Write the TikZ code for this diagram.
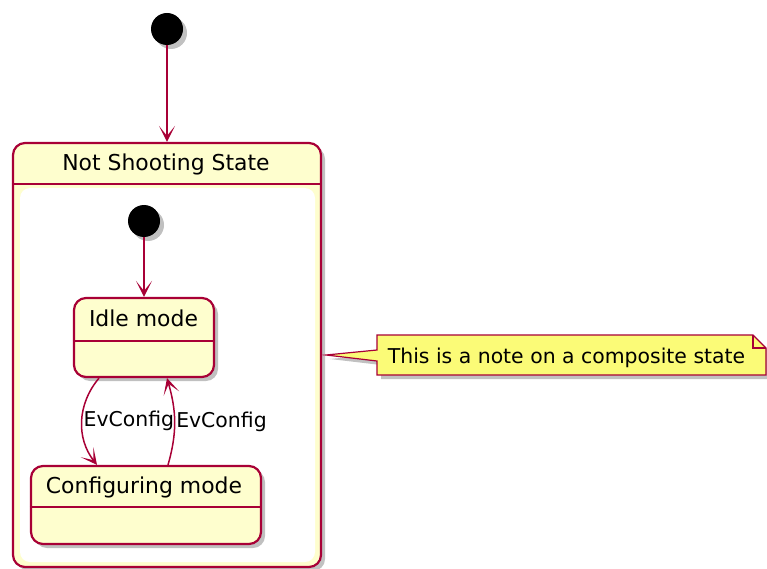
\documentclass[tikz,border=0pt]{standalone}
\usepackage{fontspec}
\setmainfont{DejaVu Sans}
\usetikzlibrary{positioning,arrows.meta,shadows}
\definecolor{stline}{HTML}{A80036}
\definecolor{stfill}{HTML}{FEFECE}
\definecolor{notefill}{HTML}{FBFB77}

\begin{document}
\begin{tikzpicture}[x=1pt, y=1pt,
  shd/.style={drop shadow={shadow xshift=4pt, shadow yshift=-4pt, opacity=.35, fill=black!70}},
  startdot/.style={circle, fill=black, minimum size=32pt, inner sep=0pt, shd},
  stbox/.style={draw=stline, line width=2.2pt, fill=stfill, rounded corners=12pt, inner sep=0pt, shd},
  sep/.style={draw=stline, line width=2.2pt},
  stname/.style={font=\fontsize{21.9}{24}\selectfont, inner sep=0pt, anchor=base},
  lbl/.style={font=\fontsize{20.4}{23}\selectfont, inner sep=0pt},
  arr/.style={-{Stealth[length=16pt, width=16pt, inset=10pt]}, draw=stline, line width=1.5pt}]
\useasboundingbox (0,0) rectangle (767,-569);

% composite state
\node[stbox, minimum width=308pt, minimum height=424pt] (comp) at (167,-355) {};
\node[fill=white, rounded corners=10pt, minimum width=295pt, minimum height=374pt] (body) at (167.5,-375) {};
\coordinate (hdr) at (0,-184);
\draw[sep] (comp.west |- hdr) -- (comp.east |- hdr);
\node[stname] (comptitle) at (166,-170.7) {Not Shooting State};

\node[startdot] (init) at (167,-29) {};
\draw[arr] (init) -- (comp.north);

% inner states
\node[startdot] (init2) at (144,-221) {};
\node[stbox, minimum width=140pt, minimum height=79pt] (idle) at (144,-337.5) {};
\coordinate (sepa) at (0,-341);
\draw[sep] (idle.west |- sepa) -- (idle.east |- sepa);
\node[stname] (idletxt) at (143.5,-326.7) {Idle mode};

\node[stbox, minimum width=230pt, minimum height=78pt] (config) at (146,-505) {};
\coordinate (sepb) at (0,-507);
\draw[sep] (config.west |- sepb) -- (config.east |- sepb);
\node[stname] (configtxt) at (144,-493.3) {Configuring mode};

\draw[arr] (init2) -- (idle.north);
\draw[arr] ([xshift=-45pt]idle.south) to[out=-130, in=128]
  node[lbl, right=1pt] (ev1) {EvConfig} ([xshift=-49pt]config.north);
\draw[arr] ([xshift=22pt]config.north) to[out=74, in=-74]
  node[lbl, right=1pt] (ev2) {EvConfig} ([xshift=23pt]idle.south);

% note
\coordinate (tip) at ([xshift=4pt]comp.east);
\draw[draw=stline, fill=notefill, line width=1.2pt, shd]
  (377,-335) -- (753,-335) -- (766,-348) -- (766,-375) -- (377,-375)
  -- (377,-361) -- (tip) -- (377,-350) -- cycle;
\draw[draw=stline, line width=1.2pt] (753,-335) -- (753,-348) -- (766,-348);
\node[lbl, anchor=base] (note) at (566.5,-363.3) {This is a note on a composite state};
\end{tikzpicture}
\end{document}
